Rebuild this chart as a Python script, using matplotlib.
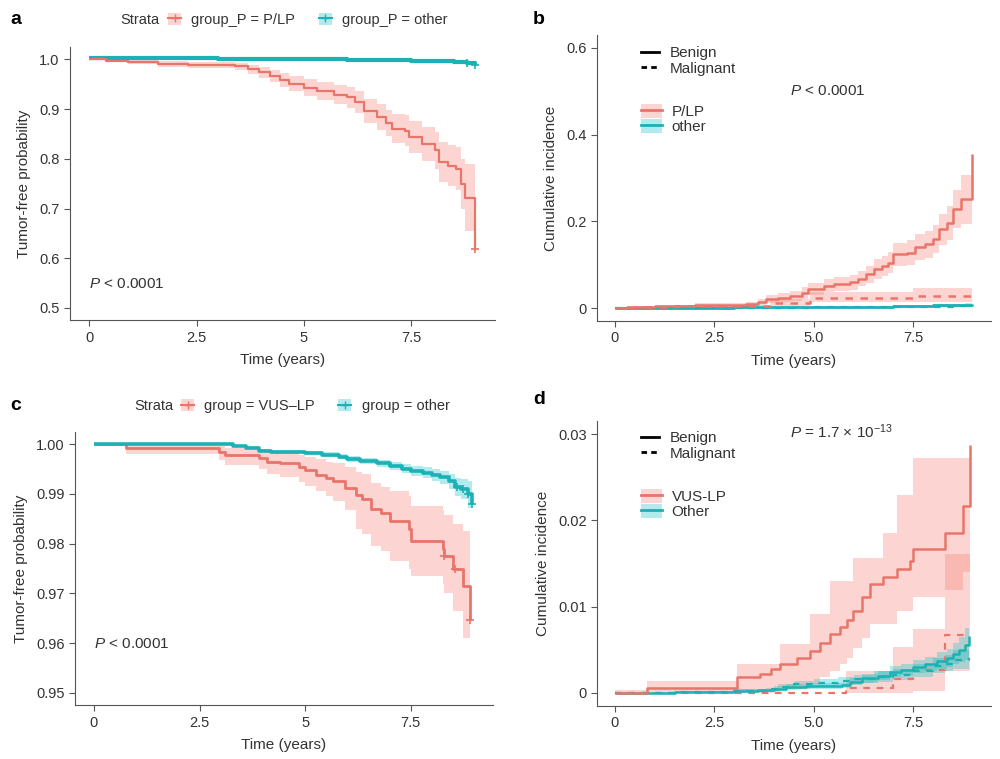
import numpy as np
import matplotlib
matplotlib.use("Agg")
import matplotlib.pyplot as plt
from matplotlib.patches import Patch
from matplotlib.lines import Line2D

plt.rcParams['font.family'] = ['Liberation Sans', 'DejaVu Sans']
plt.rcParams['mathtext.fontset'] = 'custom'
plt.rcParams['mathtext.rm'] = 'Liberation Sans'
plt.rcParams['mathtext.it'] = 'Liberation Sans:italic'

RED = '#E8746A'
TEAL = '#1DB0B4'
RED_FILL = '#F8766D'
TEAL_FILL = '#00BFC4'
TXT = '#333333'

# ---- panel a: Kaplan-Meier, group_P ----
a_plp_t = [0, 0.4, 0.9, 1.6, 2.3, 3.4, 3.7, 3.95, 4.2, 4.45, 4.65, 5.0, 5.3, 5.7, 6.0,
           6.2, 6.4, 6.7, 6.9, 7.05, 7.35, 7.45, 7.75, 8.05, 8.15, 8.35, 8.55, 8.65, 8.75, 8.98]
a_plp_s = [1.0, 0.997, 0.994, 0.991, 0.989, 0.986, 0.980, 0.974, 0.967, 0.958, 0.951, 0.943, 0.936,
           0.929, 0.924, 0.914, 0.897, 0.884, 0.872, 0.861, 0.857, 0.843, 0.830, 0.817, 0.793, 0.786,
           0.780, 0.750, 0.722, 0.619]
a_plp_lo = [1.0, 0.995, 0.990, 0.985, 0.982, 0.978, 0.971, 0.963, 0.955, 0.944, 0.936, 0.926, 0.918,
            0.910, 0.903, 0.892, 0.873, 0.859, 0.845, 0.832, 0.826, 0.811, 0.796, 0.780, 0.753, 0.745,
            0.737, 0.700, 0.655, 0.655]
a_plp_hi = [1.0, 0.999, 0.998, 0.996, 0.995, 0.993, 0.989, 0.985, 0.979, 0.972, 0.966, 0.960, 0.954,
            0.948, 0.945, 0.936, 0.921, 0.910, 0.899, 0.890, 0.888, 0.876, 0.864, 0.854, 0.833, 0.827,
            0.823, 0.800, 0.790, 0.790]
a_oth_t = [0, 0.5, 1, 2, 3, 4, 5, 6, 7, 7.5, 8, 8.5, 8.8, 8.98]
a_oth_s = [1.003, 1.003, 1.0025, 1.002, 1.0015, 1.001, 1.0, 0.999, 0.998, 0.997, 0.996, 0.994, 0.992, 0.989]
a_oth_lo = [1.003, 1.002, 1.0015, 1.001, 1.0005, 1.0, 0.999, 0.998, 0.997, 0.996, 0.994, 0.992, 0.989, 0.986]
a_oth_hi = [1.003, 1.004, 1.0035, 1.003, 1.0025, 1.002, 1.001, 1.0, 0.999, 0.998, 0.998, 0.996, 0.995, 0.992]

# ---- panel b: cumulative incidence, P/LP vs other ----
b_plp_ben_t = [0, 0.3, 1.0, 2.0, 3.3, 3.6, 3.8, 4.1, 4.4, 4.7, 4.85, 5.25, 5.5, 5.9, 6.1, 6.3, 6.5,
               6.7, 6.85, 7.0, 7.35, 7.55, 7.8, 8.0, 8.15, 8.35, 8.5, 8.7, 8.98]
b_plp_ben_v = [0, 0.002, 0.005, 0.007, 0.009, 0.014, 0.020, 0.024, 0.028, 0.035, 0.043, 0.051, 0.055,
               0.059, 0.068, 0.078, 0.090, 0.097, 0.105, 0.124, 0.128, 0.140, 0.147, 0.159, 0.182,
               0.197, 0.228, 0.251, 0.356]
b_plp_ben_lo = [0, 0.000, 0.002, 0.003, 0.004, 0.007, 0.011, 0.014, 0.017, 0.022, 0.029, 0.036, 0.039,
                0.042, 0.050, 0.058, 0.068, 0.074, 0.081, 0.097, 0.100, 0.110, 0.116, 0.126, 0.146,
                0.158, 0.184, 0.195, 0.195]
b_plp_ben_hi = [0, 0.004, 0.008, 0.011, 0.014, 0.021, 0.029, 0.034, 0.039, 0.048, 0.057, 0.066, 0.071,
                0.076, 0.086, 0.098, 0.112, 0.120, 0.129, 0.151, 0.156, 0.170, 0.178, 0.192, 0.218,
                0.236, 0.272, 0.307, 0.307]
b_plp_mal_t = [0, 0.5, 1.5, 3.9, 4.9, 7.5, 8.98]
b_plp_mal_v = [0, 0.002, 0.004, 0.012, 0.024, 0.028, 0.028]
b_plp_mal_lo = [0, 0, 0.001, 0.004, 0.013, 0.015, 0.015]
b_plp_mal_hi = [0, 0.005, 0.008, 0.022, 0.036, 0.047, 0.047]
b_oth_t = [0, 1, 2, 3, 4, 5, 6, 7, 7.5, 8, 8.5, 8.8, 8.98]
b_oth_ben_v = [0, 0.0005, 0.001, 0.0015, 0.002, 0.0025, 0.003, 0.004, 0.005, 0.006, 0.007, 0.008, 0.0095]
b_oth_ben_lo = [0, 0, 0.0002, 0.0005, 0.0008, 0.0011, 0.0014, 0.0020, 0.0027, 0.0034, 0.0040, 0.0045, 0.0050]
b_oth_ben_hi = [0, 0.0012, 0.0018, 0.0025, 0.0032, 0.0039, 0.0046, 0.0060, 0.0073, 0.0086, 0.0100, 0.0115, 0.0140]
b_oth_mal_v = [0, 0.0003, 0.0006, 0.0009, 0.0012, 0.0015, 0.0019, 0.0024, 0.0028, 0.0033, 0.0038, 0.0043, 0.0050]
b_oth_mal_lo = [0, 0, 0.0001, 0.0003, 0.0005, 0.0007, 0.0009, 0.0012, 0.0015, 0.0018, 0.0021, 0.0024, 0.0028]
b_oth_mal_hi = [0, 0.0008, 0.0012, 0.0016, 0.0020, 0.0024, 0.0030, 0.0037, 0.0042, 0.0049, 0.0056, 0.0063, 0.0072]

# ---- panel c: Kaplan-Meier, VUS-LP ----
c_vus_t = [0, 0.75, 2.95, 3.1, 3.9, 4.1, 4.4, 4.85, 5.0, 5.25, 5.5, 5.65, 5.95, 6.2, 6.35, 6.55,
           6.8, 7.0, 7.45, 7.5, 8.27, 8.3, 8.5, 8.75, 8.9]
c_vus_s = [1.0, 0.9993, 0.9985, 0.9978, 0.9972, 0.9965, 0.9962, 0.9954, 0.9948, 0.9939, 0.9932,
           0.9926, 0.9912, 0.9898, 0.9889, 0.9869, 0.9862, 0.9845, 0.9830, 0.9805, 0.9790, 0.9775,
           0.9748, 0.9715, 0.9647]
c_vus_lo = [1.0, 0.998, 0.9968, 0.9958, 0.9950, 0.9940, 0.9935, 0.9925, 0.9917, 0.9905, 0.9895,
            0.9886, 0.9868, 0.9830, 0.9819, 0.9795, 0.9786, 0.9765, 0.9748, 0.9735, 0.9718, 0.9700,
            0.9665, 0.9610, 0.9598]
c_vus_hi = [1.0, 1.0, 0.9997, 0.9993, 0.9990, 0.9985, 0.9983, 0.9978, 0.9975, 0.9970, 0.9965,
            0.9962, 0.9955, 0.9945, 0.9940, 0.9922, 0.9915, 0.9905, 0.9895, 0.9876, 0.9868, 0.9858,
            0.9840, 0.9825, 0.9800]
c_oth_t = [0, 3.3, 3.6, 3.9, 4.2, 4.6, 5.0, 5.4, 5.8, 6.0, 6.3, 6.7, 7.0, 7.3, 7.5, 7.8, 8.0, 8.2,
           8.4, 8.55, 8.7, 8.85, 8.95]
c_oth_s = [1.0, 0.9997, 0.9993, 0.9987, 0.9985, 0.9984, 0.9982, 0.9979, 0.9975, 0.9970, 0.9966,
           0.9962, 0.9956, 0.9951, 0.9946, 0.9943, 0.9939, 0.9934, 0.9926, 0.9914, 0.9910, 0.9899, 0.9880]
c_oth_lo = [1.0, 0.9995, 0.9990, 0.9984, 0.9981, 0.9980, 0.9978, 0.9974, 0.9970, 0.9964, 0.9960,
            0.9955, 0.9948, 0.9942, 0.9936, 0.9932, 0.9927, 0.9921, 0.9911, 0.9896, 0.9890, 0.9872, 0.9842]
c_oth_hi = [1.0, 0.9999, 0.9996, 0.9990, 0.9989, 0.9988, 0.9986, 0.9984, 0.9980, 0.9976, 0.9972,
            0.9969, 0.9964, 0.9960, 0.9956, 0.9954, 0.9951, 0.9947, 0.9941, 0.9932, 0.9930, 0.9926, 0.9918]

# ---- panel d: cumulative incidence, VUS-LP vs Other ----
d_vus_ben_t = [0, 0.8, 3.06, 3.64, 3.93, 4.15, 4.57, 4.9, 5.15, 5.4, 5.65, 5.82, 5.99, 6.2, 6.4,
               6.74, 7.08, 7.41, 7.5, 8.29, 8.75, 8.92]
d_vus_ben_v = [0, 0.0006, 0.0018, 0.0022, 0.0028, 0.0033, 0.0041, 0.0049, 0.0058, 0.0068, 0.0076,
               0.0084, 0.0095, 0.0111, 0.0126, 0.0134, 0.0144, 0.0153, 0.0167, 0.0185, 0.0217, 0.0287]
d_vus_ben_lo = [0, 0, 0, 0, 0, 0.0003, 0.0005, 0.0010, 0.0018, 0.0026, 0.0033, 0.0041, 0.0052,
                0.0064, 0.0080, 0.0080, 0.0095, 0.0095, 0.0111, 0.0119, 0.0140, 0.0140]
d_vus_ben_hi = [0.0003, 0.0014, 0.0033, 0.0033, 0.0033, 0.0057, 0.0057, 0.0092, 0.0092, 0.0130,
                0.0130, 0.0130, 0.0157, 0.0157, 0.0157, 0.0186, 0.0229, 0.0229, 0.0272, 0.0272,
                0.0272, 0.0272]
d_vus_mal_t = [0, 5.8, 7.0, 7.5, 8.3, 8.92]
d_vus_mal_v = [0, 0.0006, 0.0016, 0.0027, 0.0067, 0.0067]
d_vus_mal_lo = [0, 0, 0, 0.0002, 0.0025, 0.0025]
d_vus_mal_hi = [0, 0.0025, 0.0053, 0.0074, 0.0161, 0.0161]
d_oth_ben_t = [0, 1.5, 3.0, 3.6, 4.0, 4.3, 4.8, 5.7, 5.9, 6.2, 6.6, 6.9, 7.2, 7.5, 7.8, 8.1, 8.35,
               8.5, 8.65, 8.8, 8.9]
d_oth_ben_v = [0, 0.0001, 0.0002, 0.0003, 0.0005, 0.0007, 0.0008, 0.0009, 0.0013, 0.0017, 0.0020,
               0.0024, 0.0027, 0.0030, 0.0033, 0.0037, 0.0040, 0.0045, 0.0050, 0.0055, 0.0066]
d_oth_ben_lo = [0, 0, 0.0001, 0.0001, 0.0002, 0.0004, 0.0005, 0.0006, 0.0009, 0.0012, 0.0015,
                0.0018, 0.0021, 0.0023, 0.0025, 0.0028, 0.0030, 0.0033, 0.0036, 0.0038, 0.0042]
d_oth_ben_hi = [0, 0.0002, 0.0004, 0.0005, 0.0008, 0.0010, 0.0011, 0.0012, 0.0017, 0.0022, 0.0026,
                0.0031, 0.0034, 0.0038, 0.0042, 0.0047, 0.0051, 0.0058, 0.0065, 0.0075, 0.0099]
d_oth_mal_t = [0, 1.5, 3.0, 3.8, 4.1, 4.5, 5.0, 5.6, 6.0, 6.5, 7.0, 7.5, 8.0, 8.3, 8.5, 8.9]
d_oth_mal_v = [0, 0.0001, 0.0002, 0.0004, 0.0007, 0.0010, 0.0012, 0.0014, 0.0016, 0.0019, 0.0021,
               0.0025, 0.0031, 0.0034, 0.0038, 0.0041]
d_oth_mal_lo = [0, 0, 0.0001, 0.0002, 0.0004, 0.0006, 0.0008, 0.0009, 0.0011, 0.0013, 0.0015,
                0.0018, 0.0023, 0.0025, 0.0028, 0.0030]
d_oth_mal_hi = [0, 0.0002, 0.0004, 0.0006, 0.0010, 0.0014, 0.0016, 0.0019, 0.0021, 0.0025, 0.0028,
                0.0033, 0.0040, 0.0044, 0.0050, 0.0055]

# censored observations (shown as +)
a_plp_cens = [8.98]
a_oth_cens = [8.8, 8.98]
c_vus_cens = [8.3, 8.55, 8.9]
c_oth_cens = [8.6, 8.75, 8.85, 8.95]

x_ticks = [0, 2.5, 5, 7.5]


def band(ax, t, v, lo, hi, color, fill, ls='-', lw=1.6, alpha=0.3, cens=None):
    ax.fill_between(t, lo, hi, step='post', color=fill, alpha=alpha, lw=0)
    ax.step(t, v, where='post', color=color, lw=lw, ls=ls, solid_capstyle='butt')
    if cens:
        idx = np.searchsorted(t, cens, side='right') - 1
        ax.plot(cens, np.array(v)[idx], ls='none', marker='+', ms=6, mew=1.2, color=color)


def style(ax, ylim, yticks, ylabels, xlabels, ylabel):
    ax.set_xlim(-0.45, 9.45)
    ax.set_ylim(*ylim)
    ax.set_xticks(x_ticks)
    ax.set_xticklabels(xlabels)
    ax.set_yticks(yticks)
    ax.set_yticklabels(ylabels)
    for s in ['top', 'right']:
        ax.spines[s].set_visible(False)
    for s in ['left', 'bottom']:
        ax.spines[s].set_color('#555555')
        ax.spines[s].set_linewidth(0.8)
    ax.tick_params(colors='#555555', labelcolor=TXT, labelsize=10.5, length=4, width=0.8)
    ax.set_xlabel('Time (years)', fontsize=11, color=TXT, labelpad=6)
    ax.set_ylabel(ylabel, fontsize=11, color=TXT, labelpad=6)


fig = plt.figure(figsize=(10, 7.59), dpi=100)
ax_a = fig.add_axes([0.070, 0.578, 0.425, 0.360])
ax_b = fig.add_axes([0.597, 0.577, 0.394, 0.377])
ax_c = fig.add_axes([0.075, 0.071, 0.418, 0.360])
ax_d = fig.add_axes([0.597, 0.070, 0.394, 0.375])

# a
band(ax_a, a_oth_t, a_oth_s, a_oth_lo, a_oth_hi, TEAL, TEAL_FILL, lw=3.0, cens=a_oth_cens)
band(ax_a, a_plp_t, a_plp_s, a_plp_lo, a_plp_hi, RED, RED_FILL, lw=1.6, cens=a_plp_cens)
style(ax_a, (0.475, 1.025), [0.5, 0.6, 0.7, 0.8, 0.9, 1.0],
      ['0.5', '0.6', '0.7', '0.8', '0.9', '1.0'], ['0', '2.5', '5', '7.5'], 'Tumor-free probability')
ax_a.text(0, 0.548, '$P$ < 0.0001', fontsize=11, color=TXT, va='center')

# b
band(ax_b, b_oth_t, b_oth_mal_v, b_oth_mal_lo, b_oth_mal_hi, TEAL, TEAL_FILL, ls=(0, (3, 3)))
band(ax_b, b_oth_t, b_oth_ben_v, b_oth_ben_lo, b_oth_ben_hi, TEAL, TEAL_FILL, lw=2.0)
band(ax_b, b_plp_mal_t, b_plp_mal_v, b_plp_mal_lo, b_plp_mal_hi, RED, RED_FILL, ls=(0, (3, 3)), lw=1.8)
band(ax_b, b_plp_ben_t, b_plp_ben_v, b_plp_ben_lo, b_plp_ben_hi, RED, RED_FILL, lw=1.8)
style(ax_b, (-0.03, 0.63), [0, 0.2, 0.4, 0.6], ['0', '0.2', '0.4', '0.6'],
      ['0', '2.5', '5.0', '7.5'], 'Cumulative incidence')
ax_b.text(4.4, 0.50, '$P$ < 0.0001', fontsize=11, color=TXT, va='center')

# c
band(ax_c, c_vus_t, c_vus_s, c_vus_lo, c_vus_hi, RED, RED_FILL, lw=2.0, cens=c_vus_cens)
band(ax_c, c_oth_t, c_oth_s, c_oth_lo, c_oth_hi, TEAL, TEAL_FILL, lw=2.6, cens=c_oth_cens)
style(ax_c, (0.9475, 1.0025), [0.95, 0.96, 0.97, 0.98, 0.99, 1.0],
      ['0.95', '0.96', '0.97', '0.98', '0.99', '1.00'], ['0', '2.5', '5', '7.5'], 'Tumor-free probability')
ax_c.text(0, 0.9598, '$P$ < 0.0001', fontsize=11, color=TXT, va='center')

# d
band(ax_d, d_vus_mal_t, d_vus_mal_v, d_vus_mal_lo, d_vus_mal_hi, RED, RED_FILL, ls=(0, (3, 3)))
band(ax_d, d_oth_mal_t, d_oth_mal_v, d_oth_mal_lo, d_oth_mal_hi, TEAL, TEAL_FILL, ls=(0, (3, 3)))
band(ax_d, d_oth_ben_t, d_oth_ben_v, d_oth_ben_lo, d_oth_ben_hi, TEAL, TEAL_FILL, lw=1.8)
band(ax_d, d_vus_ben_t, d_vus_ben_v, d_vus_ben_lo, d_vus_ben_hi, RED, RED_FILL, lw=1.8)
style(ax_d, (-0.0015, 0.0315), [0, 0.01, 0.02, 0.03], ['0', '0.01', '0.02', '0.03'],
      ['0', '2.5', '5.0', '7.5'], 'Cumulative incidence')
ax_d.text(4.4, 0.0303, '$P$ = 1.7 × 10$^{-13}$', fontsize=11, color=TXT, va='center')

# strata legends (a, c)
def strata_legend(txt_x, leg_x, y, labels):
    fig.text(txt_x, y, 'Strata', fontsize=10.5, color=TXT, va='center')
    handles = [
        (Patch(facecolor=RED_FILL, alpha=0.3, lw=0),
         Line2D([], [], color=RED, lw=1.5, marker='+', ms=6)),
        (Patch(facecolor=TEAL_FILL, alpha=0.3, lw=0),
         Line2D([], [], color=TEAL, lw=1.5, marker='+', ms=6)),
    ]
    leg = fig.legend(handles, labels, loc='center left', bbox_to_anchor=(leg_x, y), ncol=2,
                     frameon=False, fontsize=10.5, handlelength=0.9, handleheight=0.9,
                     handletextpad=0.7, columnspacing=1.6, borderpad=0, borderaxespad=0)
    for t in leg.get_texts():
        t.set_color(TXT)


strata_legend(0.120, 0.168, 1 - 20 / 759, ['group_P = P/LP', 'group_P = other'])
strata_legend(0.134, 0.181, 1 - 406 / 759, ['group = VUS\u2013LP', 'group = other'])


# linetype + group legends (b, d)
def ci_legends(ax, x, y1, y2, labels):
    lt = [Line2D([], [], color='black', lw=2), Line2D([], [], color='black', lw=2, ls=(0, (2, 1.5)))]
    l1 = fig.legend(lt, ['Benign', 'Malignant'], loc='upper left', bbox_to_anchor=(x, y1),
                    frameon=False, fontsize=11, handlelength=1.2, handletextpad=0.7,
                    labelspacing=0.1, borderpad=0, borderaxespad=0)
    gr = [
        (Patch(facecolor=RED_FILL, alpha=0.3, lw=0), Line2D([], [], color=RED, lw=2)),
        (Patch(facecolor=TEAL_FILL, alpha=0.3, lw=0), Line2D([], [], color=TEAL, lw=2)),
    ]
    l2 = fig.legend(gr, labels, loc='upper left', bbox_to_anchor=(x, y2),
                    frameon=False, fontsize=11, handlelength=1.4, handleheight=1.0,
                    handletextpad=0.6, labelspacing=0.0, borderpad=0, borderaxespad=0)
    for leg in (l1, l2):
        for t in leg.get_texts():
            t.set_color(TXT)


ci_legends(ax_b, 0.641, 1 - 46 / 759, 1 - 104 / 759, ['P/LP', 'other'])
ci_legends(ax_d, 0.641, 1 - 431 / 759, 1 - 489 / 759, ['VUS-LP', 'Other'])

for lab, x, y in [('a', 0.010, 1 - 20 / 759), ('b', 0.533, 1 - 20 / 759),
                  ('c', 0.010, 1 - 406 / 759), ('d', 0.533, 1 - 400 / 759)]:
    fig.text(x, y, lab, fontsize=14, fontweight='bold', va='center')

fig.savefig('out.png', dpi=100)
